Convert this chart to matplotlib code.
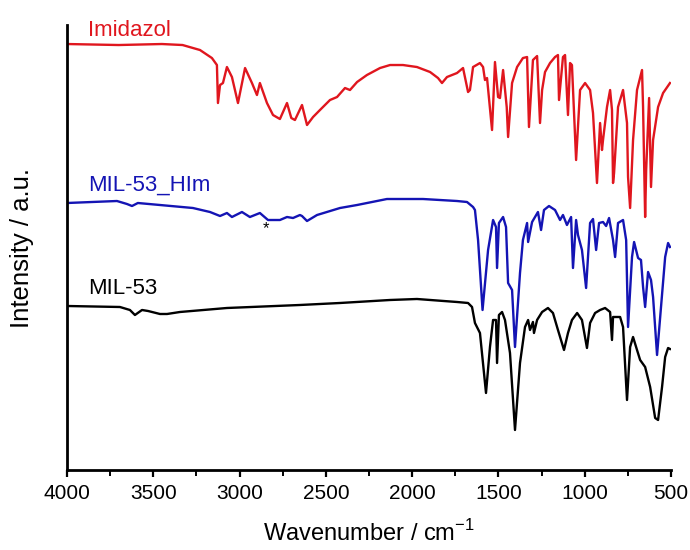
import matplotlib
matplotlib.use("Agg")
import matplotlib.pyplot as plt
from matplotlib.ticker import MultipleLocator

plt.rcParams['font.family'] = ['Liberation Sans', 'DejaVu Sans']

# ---- data (wavenumber in cm^-1, intensity in arbitrary units, stacked) ----
imid_wn = [4000, 3700, 3450, 3330, 3229, 3160, 3131, 3125, 3113, 3096, 3073, 3044, 3009,
           2968, 2928, 2899, 2882, 2841, 2806, 2766, 2725, 2700, 2679, 2638, 2609, 2574,
           2534, 2476, 2435, 2389, 2360, 2319, 2262, 2186, 2128, 2053, 1972, 1896, 1850,
           1827, 1798, 1740, 1705, 1676, 1665, 1647, 1607, 1589, 1578, 1566, 1537, 1520,
           1502, 1491, 1473, 1452, 1444, 1421, 1392, 1358, 1334, 1323, 1300, 1276, 1259,
           1247, 1230, 1201, 1172, 1155, 1149, 1126, 1114, 1097, 1085, 1074, 1050, 1027,
           998, 969, 952, 929, 911, 900, 894, 871, 853, 842, 836, 830, 807, 778, 755, 749,
           737, 720, 697, 668, 662, 650, 644, 627, 616, 604, 575, 546, 506]
imid_int = [426, 425, 426, 425, 420, 412, 405, 367, 385, 387, 403, 393, 367,
            402, 387, 375, 387, 367, 355, 351, 367, 352, 350, 365, 345, 353,
            360, 370, 373, 382, 380, 388, 395, 402, 405, 405, 403, 398, 392,
            387, 393, 397, 402, 378, 380, 403, 407, 403, 390, 392, 340, 408,
            373, 372, 400, 363, 333, 387, 403, 412, 413, 343, 410, 414, 347,
            380, 398, 407, 413, 415, 370, 413, 415, 355, 407, 405, 310, 380,
            387, 380, 357, 287, 347, 320, 330, 363, 380, 360, 287, 297, 363, 380, 347, 293,
            262, 330, 380, 400, 363, 253, 300, 372, 283, 330, 363, 377, 387]

him_wn = [4000, 3710, 3652, 3623, 3589, 3461, 3270, 3171, 3113, 3073, 3044, 2986, 2940,
          2882, 2835, 2766, 2725, 2690, 2650, 2638, 2609, 2551, 2418, 2319, 2146, 1937,
          1740, 1682, 1647, 1636, 1618, 1592, 1560, 1531, 1514, 1508, 1497, 1473, 1456,
          1444, 1421, 1404, 1375, 1358, 1334, 1328, 1305, 1271, 1253, 1236, 1207, 1172,
          1143, 1126, 1103, 1079, 1068, 1050, 1039, 1016, 992, 969, 952, 934, 917, 894,
          876, 859, 836, 824, 807, 778, 760, 749, 726, 714, 691, 674, 662, 650, 633, 616,
          604, 581, 558, 534, 517, 506]
him_int = [267, 269, 266, 264, 267, 265, 262, 258, 254, 257, 253, 258, 253,
           257, 250, 250, 253, 252, 255, 254, 249, 255, 262, 265, 271, 271,
           269, 268, 263, 260, 230, 160, 220, 250, 243, 202, 247, 253, 243,
           187, 180, 123, 197, 230, 247, 228, 248, 258, 240, 260, 264, 260,
           250, 255, 245, 253, 202, 250, 235, 220, 182, 247, 251, 220, 247, 248,
           244, 252, 230, 213, 247, 250, 230, 143, 213, 228, 212, 210, 183, 163, 198, 190,
           173, 115, 163, 213, 227, 223]

mil_wn = [4000, 3693, 3635, 3606, 3565, 3530, 3461, 3420, 3345, 3073, 2650, 2418, 2128,
          1972, 1740, 1676, 1653, 1636, 1607, 1572, 1549, 1531, 1514, 1508, 1497, 1479,
          1462, 1433, 1404, 1375, 1346, 1328, 1317, 1300, 1294, 1276, 1247, 1213, 1184,
          1155, 1120, 1097, 1074, 1044, 1016, 987, 969, 940, 911, 882, 853, 842, 836, 795,
          778, 755, 737, 720, 697, 679, 650, 621, 592, 575, 552, 534, 517, 506]
mil_int = [164, 163, 160, 155, 160, 159, 156, 156, 158, 162, 165, 167, 170,
           171, 168, 167, 163, 147, 137, 77, 123, 150, 150, 107, 155, 158,
           150, 117, 40, 107, 143, 150, 140, 148, 137, 150, 158, 162, 157,
           140, 120, 137, 150, 157, 150, 122, 147, 157, 160, 162, 158, 130, 153, 153,
           143, 70, 123, 133, 120, 110, 103, 83, 52, 50, 83, 113, 122, 121]

series_names = ["Imidazol", "MIL-53_HIm", "MIL-53"]
series_colors = ["#e0161e", "#1414b4", "#000000"]

# ---- figure ----
fig = plt.figure(figsize=(6.9, 5.5), dpi=100)
ax = fig.add_axes([0.097, 0.1455, 0.8755, 0.809])

for wn, inten, c in zip([imid_wn, him_wn, mil_wn], [imid_int, him_int, mil_int], series_colors):
    ax.plot(wn, inten, color=c, lw=1.7, solid_joinstyle='round')

ax.set_xlim(4000, 500)
ax.set_ylim(0, 445)
ax.xaxis.set_major_locator(MultipleLocator(500))
ax.xaxis.set_minor_locator(MultipleLocator(250))
ax.set_yticks([])
ax.tick_params(axis='x', which='major', direction='out', length=5, width=1.6,
               labelsize=15, pad=5)
ax.tick_params(axis='x', which='minor', direction='out', length=4, width=1.4)
for s in ['top', 'right']:
    ax.spines[s].set_visible(False)
for s in ['left', 'bottom']:
    ax.spines[s].set_linewidth(2)

ax.set_xlabel("Wavenumber / cm$^{\\mathregular{-1}}$", fontsize=17, labelpad=12)
ax.set_ylabel("Intensity / a.u.", fontsize=18.5, labelpad=24)

label_y = [440, 285, 181]
for name, c, ly in zip(series_names, series_colors, label_y):
    ax.text(3880, ly, name, color=c, fontsize=16, ha='left', va='center')

ax.text(2847, 241, "*", color="black", fontsize=12, ha='center', va='center')

fig.savefig("out.png", dpi=100)
